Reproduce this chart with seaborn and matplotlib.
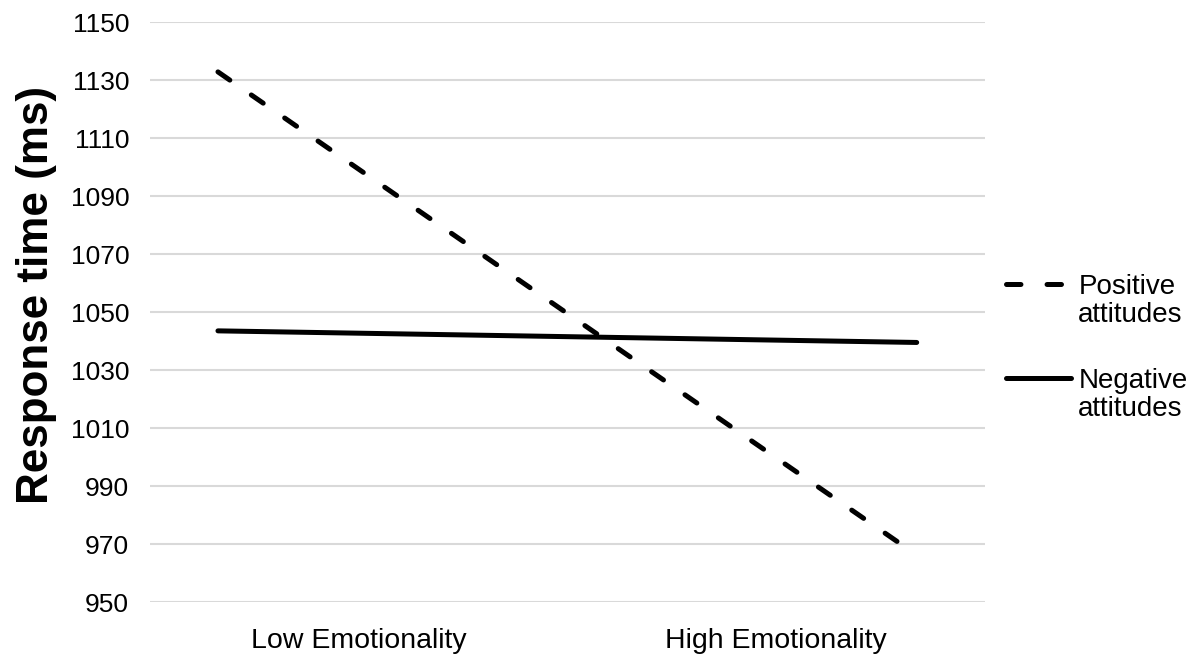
import matplotlib
matplotlib.use("Agg")
import matplotlib.pyplot as plt
import seaborn as sns
import pandas as pd

categories = ["Low Emotionality", "High Emotionality"]
series_names = ["Positive attitudes", "Negative attitudes"]
positive_vals = [1132.8, 966.2]
negative_vals = [1043.5, 1039.5]
y_ticks = [950, 970, 990, 1010, 1030, 1050, 1070, 1090, 1110, 1130, 1150]

sns.set_theme(style="white")
plt.rcParams['font.family'] = ['Liberation Sans', 'DejaVu Sans']
plt.rcParams['lines.scale_dashes'] = False
plt.rcParams['text.color'] = 'black'
plt.rcParams['xtick.color'] = 'black'
plt.rcParams['ytick.color'] = 'black'
plt.rcParams['axes.labelcolor'] = 'black'

df = pd.DataFrame({
    "x": list(range(len(categories))) * 2,
    "value": positive_vals + negative_vals,
    "series": [series_names[0]] * 2 + [series_names[1]] * 2,
})

fig = plt.figure(figsize=(11.95, 6.57), dpi=100)
ax = fig.add_axes([0.1255, 0.0837, 0.6985, 0.8828])

LW = 3.6
sns.lineplot(data=df, x="x", y="value", hue="series", style="series",
             palette=["black", "black"],
             dashes={series_names[0]: (10.4, 18.8), series_names[1]: ""},
             linewidth=LW, ax=ax, legend=False)
for ln in ax.lines:
    ln.set_dash_capstyle("round")
    ln.set_solid_capstyle("round")

pad = 0.0973
ax.set_xlim(-pad, 1 + pad)
ax.set_ylim(950, 1150)
ax.set_yticks(y_ticks)
ax.set_yticklabels([str(t) for t in y_ticks], fontsize=19)
span = 1 + 2 * pad
ax.set_xticks([-pad + 0.25 * span, -pad + 0.75 * span])
ax.set_xticklabels(categories, fontsize=20.5)
ax.tick_params(axis="y", length=0, pad=15)
ax.tick_params(axis="x", length=0, pad=19)
ax.yaxis.grid(True, color="#d9d9d9", linewidth=1.5)
ax.xaxis.grid(False)
for s in ax.spines.values():
    s.set_visible(False)
ax.set_xlabel("")
ax.set_ylabel("Response time (ms)", fontsize=31.7, fontweight="bold")
ax.yaxis.set_label_coords(-0.111, 0.529)

first_words = [n.split(" ")[0] for n in series_names]
second_words = [n.split(" ", 1)[1] for n in series_names]
leg = ax.legend(handles=ax.lines[:2], labels=first_words,
                loc="upper left", bbox_to_anchor=(1005.5 / 1195, 1 - 274 / 657),
                bbox_transform=fig.transFigure, frameon=False,
                fontsize=20, handlelength=2.35, handletextpad=0.27,
                labelspacing=2.45, borderpad=0, borderaxespad=0)
for txt, word in zip(leg.get_texts(), second_words):
    ax.annotate(word, xy=(0, 0), xycoords=txt, xytext=(0, -1.5),
                textcoords="offset points", ha="left", va="top",
                fontsize=20, zorder=10)

fig.savefig("out.png", dpi=100)
